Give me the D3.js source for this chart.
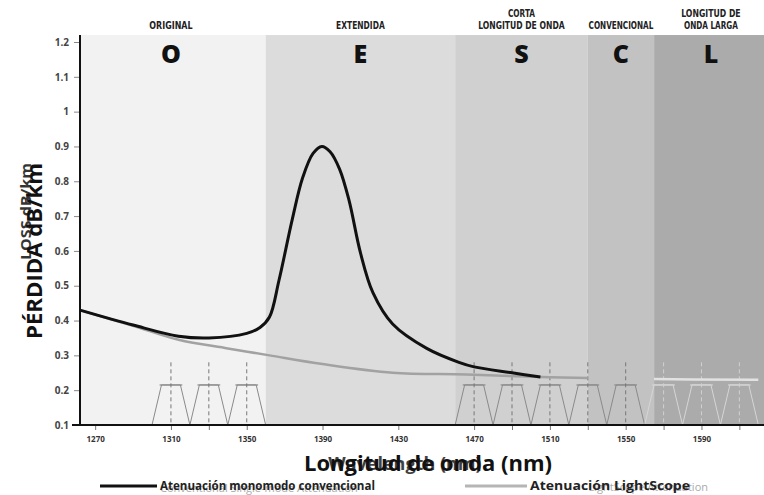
<!DOCTYPE html>
<head>
<meta charset="utf-8">
<script src="https://d3js.org/d3.v7.min.js"></script>
<style>
  body { margin: 0; background: #fff; }
  svg { display: block; }
  .ytick { font-family: 'Open Sans', sans-serif; font-size: 10px; font-weight: 700; fill: #444; }
  .xtick { font-family: 'Open Sans', sans-serif; font-size: 8px; font-weight: 700; fill: #333; }
  .bandlab { font-family: 'DejaVu Sans Condensed', 'Liberation Sans Narrow', sans-serif; font-size: 10px; font-weight: 700; fill: #222; }
  .bigletter { font-family: 'Open Sans', sans-serif; font-size: 25px; font-weight: 800; fill: #111; }
  .title { font-family: 'Open Sans', sans-serif; font-weight: 700; fill: #111; }
  .legend { font-family: 'Open Sans', sans-serif; font-size: 12px; font-weight: 700; fill: #222; }
</style>
</head>
<body>
<svg width="764" height="495"></svg>
<script>
// wavelength bands
var bandNames = ["O", "E", "S", "C", "L"];
var bandStart = [1260, 1360, 1460, 1530, 1565];
var bandEnd = [1360, 1460, 1530, 1565, 1625];
var bandLabels = [["ORIGINAL"], ["EXTENDIDA"], ["CORTA", "LONGITUD DE ONDA"], ["CONVENCIONAL"], ["LONGITUD DE", "ONDA LARGA"]];

// conventional single-mode attenuation (dB/km)
var convNm = [1262, 1290, 1314, 1330, 1350, 1357, 1362, 1367, 1374, 1379.5, 1385, 1389.6, 1394, 1399, 1404, 1410, 1416.6, 1427, 1445, 1462, 1470, 1490, 1505];
var convLoss = [0.43, 0.387, 0.355, 0.35, 0.363, 0.38, 0.41, 0.515, 0.69, 0.81, 0.88, 0.9, 0.885, 0.835, 0.745, 0.595, 0.48, 0.39, 0.32, 0.28, 0.267, 0.25, 0.238];

// LightScope attenuation
var lsNm = [1262, 1290, 1314, 1340, 1362, 1390, 1427, 1466, 1510, 1560, 1620];
var lsLoss = [0.43, 0.385, 0.345, 0.32, 0.30, 0.275, 0.25, 0.245, 0.237, 0.232, 0.23];

// CWDM channels
var channels = [1310, 1330, 1350, 1470, 1490, 1510, 1530, 1550, 1570, 1590, 1610];

var yTicks = [0.1, 0.2, 0.3, 0.4, 0.5, 0.6, 0.7, 0.8, 0.9, 1, 1.1, 1.2];
var xTicks = [1270, 1310, 1350, 1390, 1430, 1470, 1510, 1550, 1590];

var bandColor = ["#f2f2f2", "#dcdcdc", "#d0d0d0", "#c2c2c2", "#ababab"];

var svg = d3.select("svg");
var x = d3.scaleLinear().domain([1262, 1623]).range([80, 764]);
var y = d3.scaleLinear().domain([0.1, 1.2]).range([425, 42]);

// clip regions for the light curve (it vanishes in C, looks white in L)
var defs = svg.append("defs");
defs.append("clipPath").attr("id", "clipMain").append("rect")
  .attr("x", 0).attr("y", 0).attr("width", x(1530)).attr("height", 495);
defs.append("clipPath").attr("id", "clipL").append("rect")
  .attr("x", x(1565)).attr("y", 0).attr("width", 764 - x(1565)).attr("height", 495);

// bands
var bands = svg.append("g");
bandNames.forEach(function(n, i) {
  var x0 = Math.max(x(bandStart[i]), 80), x1 = Math.min(x(bandEnd[i]), 764);
  bands.append("rect")
    .attr("x", x0).attr("y", y(1.22))
    .attr("width", x1 - x0).attr("height", y(0.1) - y(1.22))
    .attr("fill", bandColor[i]);
  var cx = x((bandStart[i] + bandEnd[i]) / 2);
  bands.append("text").attr("class", "bigletter")
    .attr("x", cx).attr("y", 63).attr("text-anchor", "middle").text(n);
  var labs = bandLabels[i];
  labs.forEach(function(t, j) {
    bands.append("text").attr("class", "bandlab")
      .attr("x", cx).attr("y", 29 - (labs.length - 1 - j) * 12)
      .attr("text-anchor", "middle")
      .attr("textLength", t.length * 5.4).attr("lengthAdjust", "spacingAndGlyphs")
      .text(t);
  });
});

// channel filters
var ch = svg.append("g");
channels.forEach(function(c) {
  var col = c > 1565 ? "#d6d6d6" : "#8a8a8a";
  ch.append("path")
    .attr("d", d3.line()([[x(c - 10), y(0.1)], [x(c - 5), y(0.215)], [x(c + 5), y(0.215)], [x(c + 10), y(0.1)]]))
    .attr("fill", "none").attr("stroke", col).attr("stroke-width", 1);
  ch.append("line")
    .attr("x1", x(c - 6)).attr("x2", x(c + 6)).attr("y1", y(0.215)).attr("y2", y(0.215))
    .attr("stroke", col).attr("stroke-width", 1.2);
  ch.append("line")
    .attr("x1", x(c)).attr("x2", x(c)).attr("y1", y(0.28)).attr("y2", y(0.1))
    .attr("stroke", c > 1565 ? "#d0d0d0" : "#777").attr("stroke-width", 1)
    .attr("stroke-dasharray", "4,3");
});

var line = d3.line().x(function(d) { return x(d[0]); }).y(function(d) { return y(d[1]); })
  .curve(d3.curveCatmullRom.alpha(0.5));

var lsPts = lsNm.map(function(n, i) { return [n, lsLoss[i]]; });
svg.append("path")
  .attr("d", line(lsPts)).attr("clip-path", "url(#clipMain)")
  .attr("fill", "none").attr("stroke", "#a2a2a2").attr("stroke-width", 2.5);
svg.append("path")
  .attr("d", line(lsPts)).attr("clip-path", "url(#clipL)")
  .attr("fill", "none").attr("stroke", "#e2e2e2").attr("stroke-width", 2.5);

svg.append("path")
  .attr("d", line(convNm.map(function(n, i) { return [n, convLoss[i]]; })))
  .attr("fill", "none").attr("stroke", "#111").attr("stroke-width", 3);

// axes
var yAxis = svg.append("g").attr("transform", "translate(80,0)")
  .call(d3.axisLeft(y).tickValues(yTicks).tickSize(6).tickPadding(5)
    .tickFormat(function(d) { return d === 1 ? "1" : d3.format(".1f")(d); }));
yAxis.select(".domain").remove();
yAxis.selectAll(".tick line").attr("stroke", "#888");
yAxis.selectAll("text").attr("class", "ytick");
svg.append("line").attr("x1", 80).attr("x2", 80).attr("y1", y(1.22)).attr("y2", y(0.1))
  .attr("stroke", "#111").attr("stroke-width", 2);

var xAxis = svg.append("g").attr("transform", "translate(0," + y(0.1) + ")")
  .call(d3.axisBottom(x).tickValues(xTicks.concat([1330, 1490, 1530, 1570, 1610])).tickSize(5).tickPadding(6)
    .tickFormat(function(d) { return xTicks.indexOf(d) >= 0 ? d : ""; }));
xAxis.select(".domain").remove();
xAxis.selectAll(".tick line").attr("stroke", "#777");
xAxis.selectAll("text").attr("class", "xtick");
svg.append("line").attr("x1", 72).attr("x2", 764).attr("y1", y(0.1)).attr("y2", y(0.1))
  .attr("stroke", "#111").attr("stroke-width", 2);

// axis titles (with the original English underneath)
svg.append("text").attr("class", "title")
  .attr("transform", "translate(31,163) rotate(-90)")
  .attr("text-anchor", "end").style("font-size", "15px").style("opacity", 0.85)
  .attr("textLength", 97).attr("lengthAdjust", "spacingAndGlyphs")
  .text("LOSS dB/km");
svg.append("text").attr("class", "title")
  .attr("transform", "translate(42,163) rotate(-90)")
  .attr("text-anchor", "end").style("font-size", "21px")
  .attr("textLength", 176).attr("lengthAdjust", "spacingAndGlyphs")
  .text("PÉRDIDA dB/km");

svg.append("text").attr("class", "title")
  .attr("x", 405).attr("y", 470).attr("text-anchor", "middle")
  .style("font-size", "18px").style("opacity", 0.8).text("Wavelength (nm)");
svg.append("text").attr("class", "title")
  .attr("x", 428).attr("y", 471).attr("text-anchor", "middle")
  .style("font-size", "22px").text("Longitud de onda (nm)");

// legend
svg.append("line").attr("x1", 100).attr("x2", 157).attr("y1", 486).attr("y2", 486)
  .attr("stroke", "#111").attr("stroke-width", 3);
svg.append("text").attr("class", "legend").attr("x", 160).attr("y", 492)
  .style("font-weight", 400).style("font-size", "11px").style("fill", "#aaa")
  .text("Conventional Single-mode Attenuation");
svg.append("text").attr("class", "legend").attr("x", 160).attr("y", 490)
  .attr("textLength", 215).attr("lengthAdjust", "spacingAndGlyphs")
  .text("Atenuación monomodo convencional");

svg.append("line").attr("x1", 465).attr("x2", 527).attr("y1", 486).attr("y2", 486)
  .attr("stroke", "#b5b5b5").attr("stroke-width", 3);
svg.append("text").attr("class", "legend").attr("x", 708).attr("y", 491)
  .attr("text-anchor", "end")
  .style("font-weight", 400).style("font-size", "11px").style("fill", "#aaa")
  .text("LightScope Attenuation");
svg.append("text").attr("class", "legend").attr("x", 530).attr("y", 490)
  .attr("textLength", 160).attr("lengthAdjust", "spacingAndGlyphs")
  .text("Atenuación LightScope");
</script>
</body>
